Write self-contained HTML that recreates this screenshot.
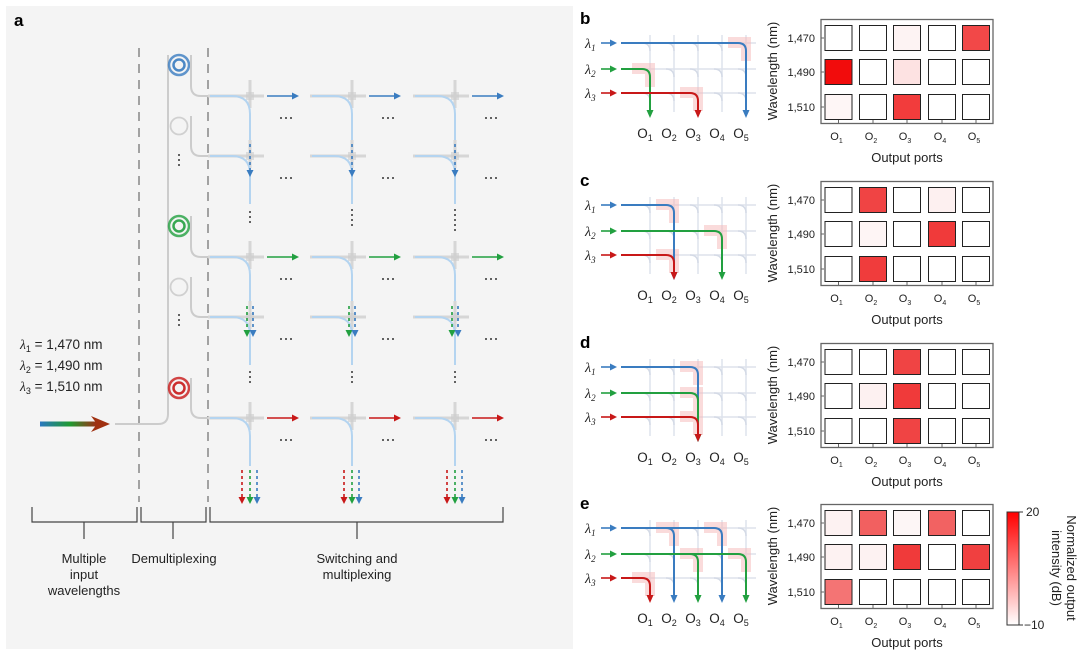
<!DOCTYPE html>
<html><head><meta charset="utf-8"><style>
body{margin:0;background:#fff;width:1080px;height:653px;overflow:hidden}
svg{display:block;font-family:"Liberation Sans",sans-serif}
</style></head><body>
<svg id="s" width="1080" height="653" viewBox="0 0 1080 653" xmlns="http://www.w3.org/2000/svg">
<defs>
<linearGradient id="ig" x1="0" x2="1"><stop offset="0" stop-color="#2a78c0"/><stop offset="0.5" stop-color="#1f9a30"/><stop offset="1" stop-color="#b02010"/></linearGradient>
<linearGradient id="cb" x1="0" y1="0" x2="0" y2="1"><stop offset="0" stop-color="#ff0000"/><stop offset="1" stop-color="#ffffff"/></linearGradient>
</defs>
<rect x="6" y="6" width="567" height="643" fill="#f4f4f4"/>
<text x="14" y="26" font-size="17" font-weight="bold">a</text>
<g id="a"></g>
<g id="r"></g>
</svg>
<script>
const B='#3a7cc0',G='#22a040',R='#c81818';
let a='';
function L(x1,y1,x2,y2,c,w,extra){return `<line x1="${x1}" y1="${y1}" x2="${x2}" y2="${y2}" stroke="${c}" stroke-width="${w}" ${extra||''}/>`;}
function arrR(x1,x2,y,c){return L(x1,y,x2-5,y,c,1.6)+`<polygon points="${x2},${y} ${x2-7},${y-3.5} ${x2-7},${y+3.5}" fill="${c}"/>`;}
function arrD(x,y1,y2,c,dash){return `<line x1="${x}" y1="${y1}" x2="${x}" y2="${y2-5}" stroke="${c}" stroke-width="1.6" ${dash?'stroke-dasharray="3,3"':''}/><polygon points="${x},${y2} ${x-3.5},${y2-7} ${x+3.5},${y2-7}" fill="${c}"/>`;}
a+=L(139,48,139,502,'#777',1.3,'stroke-dasharray="9,7"');
a+=L(208,48,208,502,'#777',1.3,'stroke-dasharray="9,7"');
a+=`<path d="M115 424 H158 Q168 424 168 414 V55" fill="none" stroke="#ccc" stroke-width="2"/>`;
const rows=[96,156,257,317,418];
const rings=[[65,B],[126,null],[226,G],[287,null],[388,R]];
rings.forEach(([y,c],i)=>{
 if(c){a+=`<circle cx="179" cy="${y}" r="10" fill="none" stroke="${c}" stroke-width="2.5" opacity=".8"/><circle cx="179" cy="${y}" r="5.5" fill="none" stroke="${c}" stroke-width="2.5" opacity=".9"/>`;}
 else a+=`<circle cx="179" cy="${y}" r="8.5" fill="none" stroke="#d0d0d0" stroke-width="1.8"/>`;
 a+=`<path d="M191 ${y-10} V${rows[i]-10} Q191 ${rows[i]} 201 ${rows[i]} H210" fill="none" stroke="#ccc" stroke-width="2"/>`;
});
function vd(x,y,n){let s='';for(let k=0;k<n;k++)s+=`<circle cx="${x}" cy="${y+k*5}" r="1" fill="#333"/>`;return s;}
function hd(x,y){let s='';for(let k=0;k<3;k++)s+=`<circle cx="${x+k*5}" cy="${y}" r="1" fill="#333"/>`;return s;}
a+=vd(179,155,3)+vd(179,315,3)+vd(250,372,3);
const cols=[250,352,455];
cols.forEach((x,ci)=>{
 rows.forEach((y,ri)=>{
  a+=L(x-42,y,x+14,y,'#d6d6d6',3)+L(x,y-16,x,y+12,'#d6d6d6',3);
  a+=`<rect x="${x-4}" y="${y-4}" width="8" height="8" fill="#ccc" opacity=".6"/>`;
  a+=`<path d="M${x-40} ${y} H${x-18} Q${x} ${y} ${x} ${y+18} V${y+(ri==4?25:45)}" fill="none" stroke="#b4d4f0" stroke-width="2"/>`;
  if(ri==0||ri==2) a+=L(x,y+18,x,y+108,'#b4d4f0',2);
  if(ri==4) a+=L(x,y+18,x,y+48,'#b4d4f0',2);
  if(ri==1||ri==3) a+=L(x,y+18,x,y+25,'#b4d4f0',2);
  a+=hd(x+31,y+22);
 });
 a+=arrR(x+17,x+49,96,B)+arrR(x+17,x+49,257,G)+arrR(x+17,x+49,418,R);
 a+=arrD(x,144,177,B,1);
 a+=arrD(x-3,306,337,G,1)+arrD(x+3,306,337,B,1);
 if(ci>0){a+=vd(x,210,3+ci);} else a+=vd(x,212,3);
 a+=vd(x,372,ci==0?0:3);
 a+=arrD(x-8,470,504,R,1)+arrD(x,470,504,G,1)+arrD(x+7,470,504,B,1);
});
a+=`<rect x="40" y="421.5" width="60" height="5" fill="url(#ig)"/><polygon points="110,424 91,416 97,424 91,432" fill="#a03010"/>`;
a+=`<text font-size="13.5" fill="#222"><tspan x="20" y="349"><tspan font-style="italic" font-family="Liberation Serif">λ</tspan><tspan font-size="9" dy="3">1</tspan><tspan dy="-3"> = 1,470 nm</tspan></tspan><tspan x="20" y="370"><tspan font-style="italic" font-family="Liberation Serif">λ</tspan><tspan font-size="9" dy="3">2</tspan><tspan dy="-3"> = 1,490 nm</tspan></tspan><tspan x="20" y="391"><tspan font-style="italic" font-family="Liberation Serif">λ</tspan><tspan font-size="9" dy="3">3</tspan><tspan dy="-3"> = 1,510 nm</tspan></tspan></text>`;
function br(x1,x2,xm){return `<path d="M${x1} 507 V522 H${x2} V507 M${xm} 522 V539" fill="none" stroke="#444" stroke-width="1.2"/>`;}
a+=br(32,137,84)+br(141,206,173)+br(210,503,357);
a+=`<g font-size="13" fill="#222" text-anchor="middle"><text x="84" y="563">Multiple</text><text x="84" y="579">input</text><text x="84" y="595">wavelengths</text><text x="174" y="563">Demultiplexing</text><text x="357" y="563">Switching and</text><text x="357" y="579">multiplexing</text></g>`;
document.getElementById('a').innerHTML=a;

const W='#ffffff';
const panels=[
 {l:'b',o:0,routes:[[0,4,B],[1,0,G],[2,2,R]],
  hm:[[W,W,'#fdf3f3',W,'#f24848'],['#f20c0c',W,'#fde2e2',W,W],['#fef6f6',W,'#f23c3c',W,W]]},
 {l:'c',o:162,routes:[[0,1,B],[1,3,G],[2,1,R]],
  hm:[[W,'#f04444',W,'#fdf0f0',W],[W,'#fef5f5',W,'#f03a3a',W],[W,'#f03c3c',W,W,W]]},
 {l:'d',o:324,routes:[[0,2,B],[1,2,G],[2,2,R]],
  hm:[[W,W,'#f04444',W,W],[W,'#fdf1f1','#f03a3a',W,W],[W,W,'#f04444',W,W]]},
 {l:'e',o:485,routes:[[0,1,B],[0,3,B],[1,2,G],[1,4,G],[2,0,R]],
  hm:[['#fdf2f2','#f26060','#fdf6f6','#f26262',W],['#fdf2f2','#fdf2f2','#f03a3a',W,'#f04040'],['#f47474',W,W,W,W]]},
];
let r='';
const cx=[650,674,698,722,746],ry=[43,69,93];
const hx=[838.5,873,907,942,976],hy=[38,72,107];
panels.forEach(p=>{
 const o=p.o;
 r+=`<text x="580" y="${o+24}" font-size="17" font-weight="bold">${p.l}</text>`;
 ry.forEach(y=>{r+=L(640,y+o,756,y+o,'#dde2ec',1.5);});
 cx.forEach(x=>{r+=L(x,o+35,x,o+112,'#dde2ec',1.5);});
 cx.forEach(x=>ry.forEach(y=>{r+=`<path d="M${x-8} ${y+o} Q${x} ${y+o} ${x} ${y+o+8}" fill="none" stroke="#d4dae6" stroke-width="1.5"/>`;}));
 [B,G,R].forEach((c,i)=>{
  r+=`<text x="585" y="${ry[i]+o+5}" font-size="14" font-style="italic" font-family="Liberation Serif" fill="#222">λ<tspan font-size="9" dy="3">${i+1}</tspan></text>`;
  r+=arrR(601,617,ry[i]+o,c);
 });
 p.routes.forEach(([ri,cj])=>{const x=cx[cj],y=ry[ri]+o;r+=`<path d="M${x-18} ${y-6} H${x+5} V${y+18} H${x-5} V${y+5} H${x-18} Z" fill="#f6b8b8" opacity=".5"/>`;});
 p.routes.forEach(([ri,cj,c])=>{const x=cx[cj],y=ry[ri]+o;
  r+=`<path d="M621 ${y} H${x-8} Q${x} ${y} ${x} ${y+8} V${o+111}" fill="none" stroke="${c}" stroke-width="2"/><polygon points="${x},${o+118} ${x-3.5},${o+110} ${x+3.5},${o+110}" fill="${c}"/>`;});
 cx.forEach((x,i)=>{r+=`<text x="${x-5}" y="${o+138}" font-size="13.5" fill="#222" text-anchor="middle">O<tspan font-size="9" dy="3">${i+1}</tspan></text>`;});
 r+=`<rect x="821" y="${o+19.5}" width="172" height="104" fill="#fff" stroke="#666" stroke-width="1.3"/>`;
 p.hm.forEach((row,i)=>row.forEach((c,j)=>{r+=`<rect x="${hx[j]-13.5}" y="${hy[i]+o-12.5}" width="27" height="25" fill="${c}" stroke="#222" stroke-width="1"/>`;}));
 hy.forEach((y,i)=>{r+=`<text x="815" y="${y+o+4}" font-size="11" fill="#222" text-anchor="end">${['1,470','1,490','1,510'][i]}</text>`+L(821,y+o,824,y+o,'#666',1);});
 hx.forEach((x,i)=>{r+=L(x,o+123.5,x,o+120,'#666',1)+`<text x="${x-2}" y="${o+140}" font-size="11" fill="#222" text-anchor="middle">O<tspan font-size="7" dy="3">${i+1}</tspan></text>`;});
 r+=`<text x="907" y="${o+162}" font-size="13" fill="#222" text-anchor="middle">Output ports</text>`;
 r+=`<text transform="translate(777 ${o+71}) rotate(-90)" font-size="13" fill="#222" text-anchor="middle">Wavelength (nm)</text>`;
});
r+=`<rect x="1007" y="512" width="12" height="113" fill="url(#cb)" stroke="#333" stroke-width="1"/>`;
r+=L(1019,512,1023,512,'#333',1)+L(1019,625,1023,625,'#333',1);
r+=`<text x="1026" y="516" font-size="12" fill="#222">20</text><text x="1024" y="629" font-size="12" fill="#222">−10</text>`;
r+=`<text transform="translate(1067 568) rotate(90)" font-size="13" fill="#222" text-anchor="middle">Normalized output</text><text transform="translate(1052 568) rotate(90)" font-size="13" fill="#222" text-anchor="middle">intensity (dB)</text>`;
document.getElementById('r').innerHTML=r;
</script>
</body></html>
